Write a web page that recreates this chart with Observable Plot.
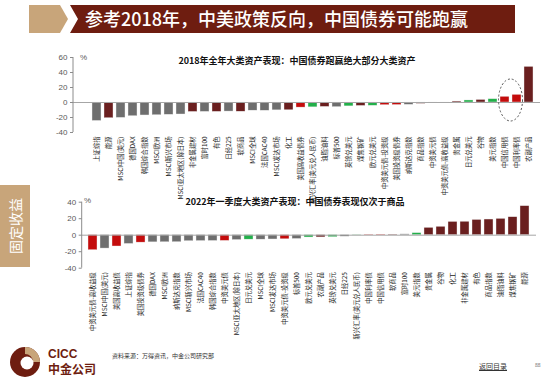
<!DOCTYPE html>
<html><head><meta charset="utf-8">
<script src="https://cdn.jsdelivr.net/npm/d3@7"></script>
<script src="https://cdn.jsdelivr.net/npm/@observablehq/plot@0.6"></script>
<style>
body{margin:0;background:#fff;}
#page{position:relative;width:550px;height:384px;overflow:hidden;font-family:"Noto Sans CJK SC","Noto Sans",sans-serif;}
.abs{position:absolute;white-space:nowrap;}
.ctitle{font-weight:bold;font-size:9px;color:#111;transform:translateX(-50%);line-height:1;}
.pct{font-family:"Liberation Sans",Arial,sans-serif;font-size:8px;color:#595959;line-height:1;}
</style></head><body><div id="page">
<svg class="abs" style="left:0;top:0" width="550" height="40">
  <polygon points="29,5 60,5 68,19 60,33 29,33" fill="#c8a57a"/>
  <polygon points="70,5 515,5 515,33 70,33 78,19" fill="#6e1d10"/>
  <text x="85" y="26" fill="#fff" font-size="18" font-family="Noto Sans CJK SC" font-weight="500">参考2018年，中美政策反向，中国债券可能跑赢</text>
</svg>
<div class="abs" style="left:0;top:185px;width:30px;height:82px;background:#c8a57a;"></div>
<svg class="abs" style="left:0;top:185px" width="30" height="82"><text x="15" y="41" transform="rotate(-90 15 41)" text-anchor="middle" dominant-baseline="central" fill="#fff" font-size="14" font-family="Noto Sans CJK SC">固定收益</text></svg>
<div id="chart1" class="abs" style="left:0;top:50px"></div>
<div id="chart2" class="abs" style="left:0;top:195px"></div>
<div class="abs ctitle" id="t1" style="left:297px;top:56px"></div>
<div class="abs ctitle" id="t2" style="left:295px;top:197px"></div>
<div class="abs pct" style="left:80px;top:54px">%</div>
<div class="abs pct" style="left:84px;top:197px">%</div>
<svg class="abs" style="left:0;top:340px" width="110" height="44">
  <circle cx="25" cy="22" r="15" fill="#6e1d10"/>
  <path d="M25,7 A15,15 0 0 1 40,22 L33,22 A8,8 0 0 0 25,14 Z" fill="#c8a57a"/>
  <circle cx="27" cy="23" r="6.5" fill="#fff"/>
  <text x="48" y="18" fill="#6e1d10" font-size="12" font-weight="bold" font-family="Liberation Sans,Arial">CICC</text>
  <text x="48" y="34" fill="#6e1d10" font-size="12" font-weight="bold" font-family="Noto Sans CJK SC">中金公司</text>
</svg>
<div class="abs" style="left:112px;top:351px;font-size:6px;color:#333;">资料来源：万得资讯，中金公司研究部</div>
<div class="abs" style="left:479px;top:361px;font-size:7px;color:#333;text-decoration:underline;">返回目录</div>
<div class="abs" style="left:535px;top:361px;font-size:5px;color:#555;">88</div>
</div>
<script>
const title2018 = "2018年全年大类资产表现：中国债券跑赢绝大部分大类资产";
const title2022 = "2022年一季度大类资产表现：中国债券表现仅次于商品";

const cats2018 = ["上证综指","能源","MSCI中国(美元)","德国DAX","韩国综合指数","MSCI欧洲","MSCI新兴市场","MSCI亚太地区(除日本)","非金属建材","富时100","有色","日经225","软商品","MSCI全球","法国CAC40","MSCI发达市场","化工","美国高收益债券","新兴汇率(美元兑人民币)","油脂油料","标普500","英镑兑美元","煤焦钢矿","欧元兑美元","中资美元债-投资级","美国投资级债券","纳斯达克指数","商品指数","中资美元债","中资美元债-高收益级","贵金属","日元兑美元","谷物","美元指数","中国信用债","中国利率债","农副产品"];
const vals2018 = [-24.6,-21.0,-20.5,-18.3,-17.3,-17.0,-16.4,-16.0,-12.6,-12.5,-12.5,-12.1,-12.3,-10.9,-11.0,-10.5,-10.4,-6.8,-6.5,-5.9,-6.2,-5.2,-4.6,-4.4,-3.6,-3.4,-3.1,-1.8,-1.0,-0.5,1.3,2.7,3.4,4.4,7.6,10.2,47.5];
const types2018 = ["股票","商品","股票","股票","股票","股票","股票","股票","商品","股票","商品","股票","商品","股票","股票","股票","商品","债券","汇率","商品","股票","汇率","商品","汇率","债券","债券","股票","商品","债券","债券","商品","汇率","商品","汇率","债券","债券","商品"];
const highlight2018 = ["中国信用债","中国利率债"];

const cats2022 = ["中资美元债-高收益级","MSCI中国(美元)","美国高收益债","上证综指","美国投资级债券","德国DAX","MSCI欧洲","纳斯达克指数","MSCI新兴市场","法国CAC40","韩国综合指数","中资美元债","MSCI亚太地区(除日本)","日元兑美元","MSCI全球","MSCI发达市场","中资美元债-投资级","标普500","欧元兑美元","农副产品","英镑兑美元","日经225","新兴汇率(美元兑人民币)","中国利率债","中国信用债","软商品","富时100","美元指数","贵金属","谷物","化工","非金属建材","有色","商品指数","油脂油料","煤焦钢矿","能源"];
const vals2022 = [-18.2,-16.2,-13.7,-10.6,-9.0,-8.7,-8.6,-8.5,-7.3,-7.1,-7.0,-6.9,-5.9,-5.4,-5.4,-5.2,-5.0,-4.6,-2.8,-2.7,-2.5,-1.8,-0.4,0.5,0.6,0.6,1.0,2.5,8.9,10.2,16.1,16.3,18.5,19.0,19.8,21.8,35.2];
const types2022 = ["债券","股票","债券","股票","债券","股票","股票","股票","股票","股票","股票","债券","股票","汇率","股票","股票","债券","股票","汇率","商品","汇率","股票","汇率","债券","债券","商品","股票","汇率","商品","商品","商品","商品","商品","商品","商品","商品","商品"];

const typeNames = ["股票","商品","债券","汇率"];
const typeColors = ["#6e6e6e","#6a1f1f","#c40c0c","#22b04a"];

const yTicks2018 = [-40,-20,0,20,40,60];
const yTicks2022 = [-40,-20,0,20,40];

document.getElementById("t1").textContent = title2018;
document.getElementById("t2").textContent = title2022;

const axisLine = (index, scales, values, dim) => {
  return d3.create("svg:line")
    .attr("x1", dim.marginLeft).attr("x2", dim.marginLeft)
    .attr("y1", dim.marginTop).attr("y2", dim.height - dim.marginBottom)
    .attr("stroke", "#8c8c8c").node();
};

function chart({cats, vals, types, yDomain, yTicks, height, marginTop, marginBottom, marginLeft, marginRight, xRange, extra = []}) {
  const data = cats.map((c, i) => ({name: c, value: vals[i], type: types[i]}));
  return Plot.plot({
    width: 550, height, marginTop, marginBottom, marginLeft, marginRight,
    style: {background: "transparent", overflow: "visible", fontFamily: "Liberation Sans, Arial, sans-serif"},
    x: {domain: cats, range: xRange, paddingInner: 0.25, paddingOuter: 0.125, label: null},
    y: {domain: yDomain, label: null},
    color: {domain: typeNames, range: typeColors},
    marks: [
      Plot.barY(data, {x: "name", y: "value", fill: "type", stroke: "#eeeeee", strokeWidth: 0.4}),
      Plot.ruleY([0], {stroke: "#a6a6a6", strokeWidth: 1}),
      axisLine,
      Plot.axisY(yTicks, {tickSize: 3, tickPadding: 3, fontSize: 8, stroke: "#8c8c8c", fill: "#595959", tickFormat: d => String(d)}),
      Plot.axisX({tickRotate: -90, tickSize: 0, tickPadding: 4, fontSize: 6.3, fill: "#222", fontFamily: "Noto Sans CJK SC"}),
      ...extra
    ]
  });
}

const ellipse2018 = (index, scales) => {
  const x = scales.x, y = scales.y;
  const bw = typeof x.bandwidth === "function" ? x.bandwidth() : 9;
  const step = x(cats2018[1]) - x(cats2018[0]);
  const cx = d3.mean(highlight2018, c => x(c) + bw / 2);
  const cy = y(0) - 2;
  return d3.create("svg:ellipse")
    .attr("cx", cx).attr("cy", cy).attr("rx", step).attr("ry", 21)
    .attr("fill", "none").attr("stroke", "#444").attr("stroke-width", 0.9)
    .attr("stroke-dasharray", "2,2").node();
};

document.getElementById("chart1").append(chart({
  cats: cats2018, vals: vals2018, types: types2018,
  yDomain: [-40, 60], yTicks: yTicks2018,
  height: 145, marginTop: 7, marginBottom: 63, marginLeft: 73, marginRight: 10,
  xRange: [83.5, 540.8], extra: [ellipse2018]
}));
document.getElementById("chart2").append(chart({
  cats: cats2022, vals: vals2022, types: types2022,
  yDomain: [-40, 40], yTicks: yTicks2022,
  height: 155, marginTop: 6.7, marginBottom: 82.3, marginLeft: 81.7, marginRight: 14,
  xRange: [81.7, 535.3]
}));
</script>
</body></html>
